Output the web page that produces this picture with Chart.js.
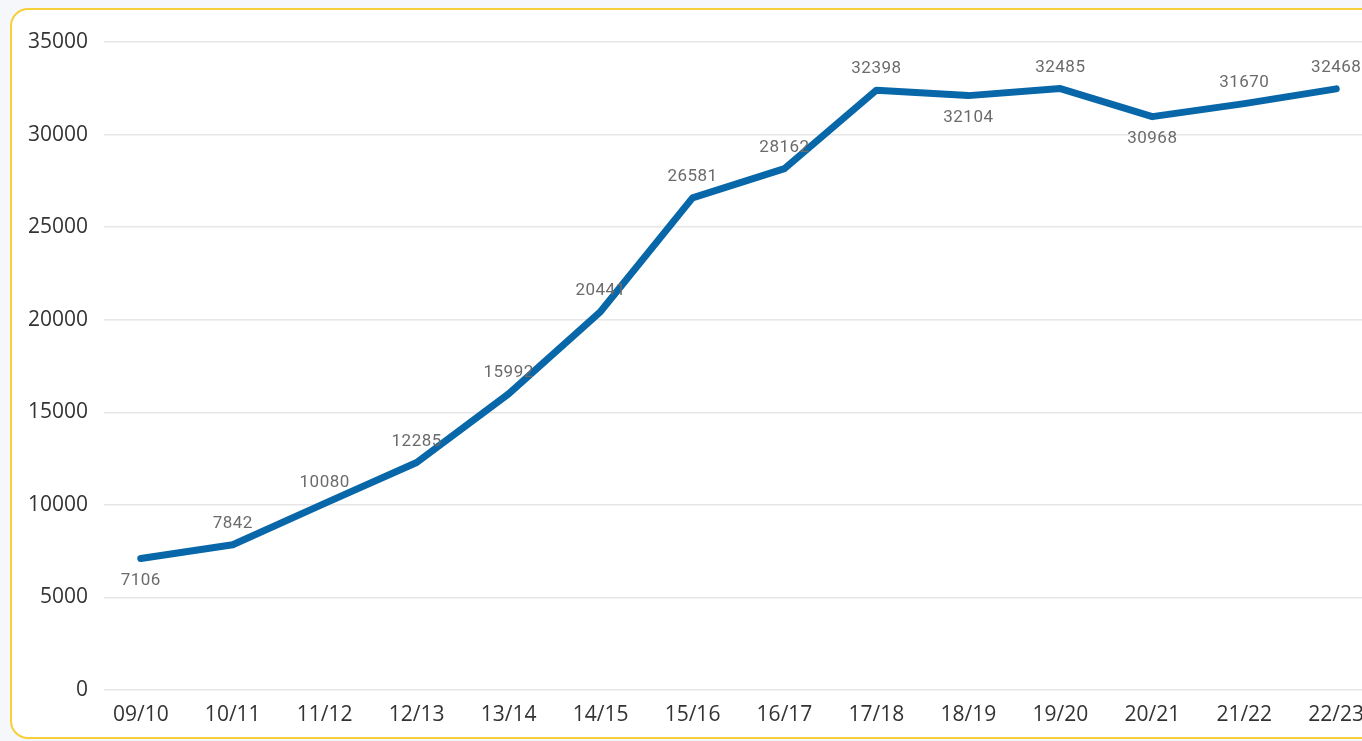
<!DOCTYPE html>
<html>
<head>
<meta charset="utf-8">
<script src="https://cdn.jsdelivr.net/npm/chart.js@4/dist/chart.umd.min.js"></script>
<style>
  html, body { margin: 0; padding: 0; background: #f5f7fa; overflow: hidden; width: 1362px; height: 741px; }
  #box { position: absolute; left: 10px; top: 8px; width: 1390px; height: 731px; background: #fff;
         border: 2px solid #f6cf3a; border-radius: 18px; box-sizing: border-box; }
  #wrap { position: absolute; left: 0; top: 0; width: 1400px; height: 741px; }
</style>
</head>
<body>
<div id="box"></div>
<div id="wrap"><canvas id="c" width="1400" height="741"></canvas></div>
<script>
const categories = ['09/10','10/11','11/12','12/13','13/14','14/15','15/16','16/17','17/18','18/19','19/20','20/21','21/22','22/23'];
const values = [7106, 7842, 10080, 12285, 15992, 20441, 26581, 28162, 32398, 32104, 32485, 30968, 31670, 32468];
const yTicks = [0, 5000, 10000, 15000, 20000, 25000, 30000, 35000];

const points = values.map((v, i) => ({ x: i, y: v }));

const labelPlugin = {
  id: 'pointLabels',
  afterDatasetsDraw(chart) {
    const ctx = chart.ctx;
    const meta = chart.getDatasetMeta(0);
    ctx.save();
    ctx.font = '17px Roboto, "DejaVu Sans Condensed", sans-serif';
    try { ctx.letterSpacing = '0.5px'; } catch (e) {}
    ctx.fillStyle = '#6b6b6b';
    ctx.textAlign = 'center';
    ctx.textBaseline = 'middle';
    meta.data.forEach((el, i) => {
      const v = values[i];
      const prev = i > 0 ? values[i - 1] : Infinity;
      const next = i < values.length - 1 ? values[i + 1] : Infinity;
      const below = v < prev && v < next;
      const y = below ? el.y + 22 : el.y - 21;
      ctx.fillText(String(v), el.x, y);
    });
    ctx.restore();
  }
};

new Chart(document.getElementById('c'), {
  type: 'line',
  data: {
    datasets: [{
      data: points,
      borderColor: '#0767a8',
      borderWidth: 7,
      borderCapStyle: 'round',
      borderJoinStyle: 'round',
      pointRadius: 0,
      tension: 0,
      fill: false,
      clip: false
    }]
  },
  options: {
    responsive: false,
    animation: false,
    layout: { padding: { left: 0, right: 27, top: 42, bottom: 0 } },
    plugins: { legend: { display: false }, tooltip: { enabled: false } },
    scales: {
      x: {
        type: 'linear',
        min: -0.4,
        max: 13.4,
        afterBuildTicks(scale) { scale.ticks = categories.map((c, i) => ({ value: i })); },
        afterFit(scale) { scale.height = 51; },
        ticks: {
          callback: (v) => categories[v],
          color: '#333',
          font: { family: '"Open Sans", sans-serif', size: 21 },
          padding: 4,
          maxRotation: 0,
          autoSkip: false
        },
        grid: { display: false },
        border: { display: false }
      },
      y: {
        min: 0,
        max: 35000,
        afterBuildTicks(scale) { scale.ticks = yTicks.map(v => ({ value: v })); },
        afterFit(scale) { scale.width = 104; },
        ticks: {
          callback: (v) => String(v),
          color: '#333',
          font: { family: '"Open Sans", sans-serif', size: 21 },
          padding: 16
        },
        grid: { color: '#e6e6e6', lineWidth: 1.5, drawTicks: false },
        border: { display: false }
      }
    }
  },
  plugins: [labelPlugin]
});
</script>
</body>
</html>
